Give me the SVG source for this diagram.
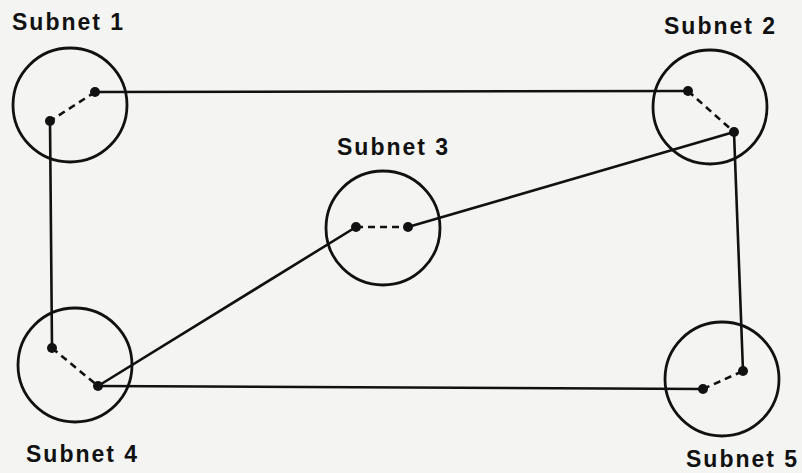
<svg xmlns="http://www.w3.org/2000/svg" width="802" height="473" viewBox="0 0 802 473">
<style>
.bg{fill:#f4f4f2}
.c{fill:none;stroke:#111;stroke-width:2.8}
.d{fill:#111}
.ln{stroke:#111;stroke-width:2.6;fill:none;stroke-linecap:round}
.ds{stroke:#111;stroke-width:2.6;fill:none;stroke-dasharray:7,5}
.t{font-family:"Liberation Sans",Arial,sans-serif;font-weight:bold;font-size:23px;letter-spacing:2px;fill:#111}
</style>
<rect class="bg" x="0" y="0" width="802" height="473"/>
<g id="connectors">
<line class="ln" x1="95" y1="92" x2="688" y2="91"/>
<line class="ln" x1="50" y1="121" x2="52" y2="348"/>
<line class="ln" x1="734" y1="132" x2="743" y2="371"/>
<line class="ln" x1="408" y1="227" x2="734" y2="132"/>
<line class="ln" x1="356" y1="227" x2="98" y2="386"/>
<line class="ln" x1="98" y1="386" x2="703" y2="389"/>
</g>
<g id="subnet1">
<circle class="c" cx="70" cy="105" r="57"/>
<line class="ds" x1="95" y1="92" x2="50" y2="121"/>
<circle class="d" cx="95" cy="92" r="5"/>
<circle class="d" cx="50" cy="121" r="5"/>
<text class="t" x="12" y="30">Subnet 1</text>
</g>
<g id="subnet2">
<circle class="c" cx="710" cy="107" r="57"/>
<line class="ds" x1="688" y1="91" x2="734" y2="132"/>
<circle class="d" cx="688" cy="91" r="5"/>
<circle class="d" cx="734" cy="132" r="5"/>
<text class="t" x="664" y="34">Subnet 2</text>
</g>
<g id="subnet3">
<circle class="c" cx="383" cy="228" r="57"/>
<line class="ds" x1="356" y1="227" x2="408" y2="227"/>
<circle class="d" cx="356" cy="227" r="5"/>
<circle class="d" cx="408" cy="227" r="5"/>
<text class="t" x="337" y="155">Subnet 3</text>
</g>
<g id="subnet4">
<circle class="c" cx="75" cy="365" r="57"/>
<line class="ds" x1="52" y1="348" x2="98" y2="386"/>
<circle class="d" cx="52" cy="348" r="5"/>
<circle class="d" cx="98" cy="386" r="5"/>
<text class="t" x="26" y="462">Subnet 4</text>
</g>
<g id="subnet5">
<circle class="c" cx="722" cy="379" r="57"/>
<line class="ds" x1="703" y1="389" x2="743" y2="371"/>
<circle class="d" cx="703" cy="389" r="5"/>
<circle class="d" cx="743" cy="371" r="5"/>
<text class="t" x="686" y="467">Subnet 5</text>
</g>
</svg>
